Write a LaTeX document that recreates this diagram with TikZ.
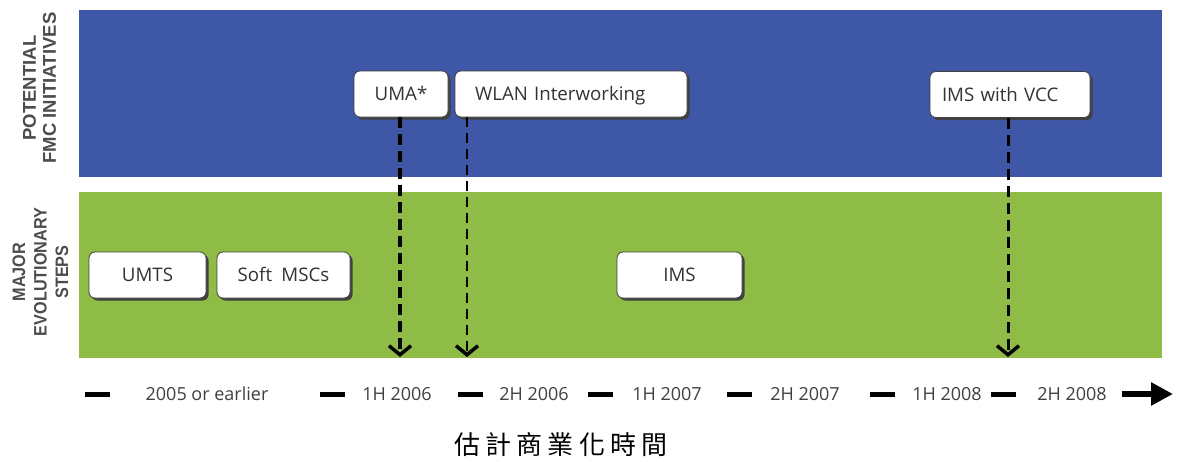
\documentclass[tikz,border=0pt]{standalone}
\usepackage{fontspec}
\setmainfont{Open Sans}
\newfontfamily\sidefont{Liberation Sans}
\newfontfamily\cjkfont[LetterSpace=20]{Noto Sans CJK TC}
\usetikzlibrary{arrows.meta,shadows}

\definecolor{fmcblue}{RGB}{62,87,166}
\definecolor{stepgreen}{RGB}{142,188,70}

\tikzset{
  stepbox/.style={draw=black!75, line width=0.8pt, fill=white, rounded corners=6pt,
    minimum height=46pt, inner ysep=0pt, text height=13.4pt, text depth=0pt, text=black!80,
    font=\fontsize{18.7}{22}\selectfont,
    drop shadow={shadow xshift=2.5pt, shadow yshift=-2.5pt, fill=black!75, opacity=1}},
  sidelabel/.style={rotate=90, align=center, text=black!70,
    font=\sidefont\bfseries\fontsize{18.5}{20}\selectfont},
  dasharrow/.style={dashed, -{Straight Barb[length=9pt,width=22pt,line width=3.5pt]}},
  period/.style={text=black!75, font=\fontsize{18}{20}\selectfont},
  tick/.style={line width=5pt}
}

\begin{document}
\begin{tikzpicture}[x=1pt,y=-1pt]
\useasboundingbox (0,0) rectangle (1186,461);
\fill[white] (0,0) rectangle (1186,461);

\fill[fmcblue] (79,10) rectangle (1162,177);
\fill[stepgreen] (79,192) rectangle (1162,358);

\node[sidelabel] (fmc) at (39.5,88) {POTENTIAL\\FMC INITIATIVES};
\node[sidelabel, xscale=0.9, font=\sidefont\bfseries\fontsize{18}{21.5}\selectfont] (evo) at (40.5,272) {MAJOR\\EVOLUTIONARY\\STEPS};

\node[stepbox, minimum width=94pt, inner xsep=0pt] (uma) at (401,94) {UMA*};
\node[stepbox, text width=192pt, inner xsep=20pt, align=left] (wlan) at (571,94) {WLAN Interworking};
\node[stepbox, text width=136pt, inner xsep=12pt, align=left] (vcc) at (1010,94.5) {IMS with VCC};

\node[stepbox, minimum width=117pt, inner xsep=0pt] (umts) at (147.5,275) {UMTS};
\node[stepbox, minimum width=133pt, inner xsep=0pt] (msc) at (283.5,275) {Soft\enspace MSCs};
\node[stepbox, minimum width=125pt, inner xsep=0pt] (ims) at (679.5,275) {IMS};

\coordinate (umatip) at (400,357);
\coordinate (wlantip) at (467,357);
\coordinate (vcctip) at (1008,357);
\draw[dasharrow, line width=4pt, dash pattern=on 11pt off 6pt] (uma.south -| umatip) -- (umatip);
\draw[dasharrow, line width=2pt, dash pattern=on 10pt off 6pt] (wlan.south -| wlantip) -- (wlantip);
\draw[dasharrow, line width=3pt, dash pattern=on 11pt off 6pt] (vcc.south -| vcctip) -- (vcctip);

\foreach \d/\c/\t [count=\i] in {85/207/2005 or earlier, 320/397/1H 2006, 458/534/2H 2006,
    588/667/1H 2007, 727/805/2H 2007, 870/947/1H 2008, 991/1072/2H 2008}{
  \draw[tick] (\d,394) -- (\d+25,394);
  \node[period] (p\i) at (\c,394) {\t};
}
\coordinate (tstart) at (1122,394);
\coordinate (tend) at (1173,394);
\draw[line width=6pt, -{Triangle[length=22pt,width=22pt]}] (tstart) -- (tend);

\node[font=\cjkfont\fontsize{26}{30}\selectfont] (caption) at (561,445) {估計商業化時間};
\end{tikzpicture}
\end{document}
